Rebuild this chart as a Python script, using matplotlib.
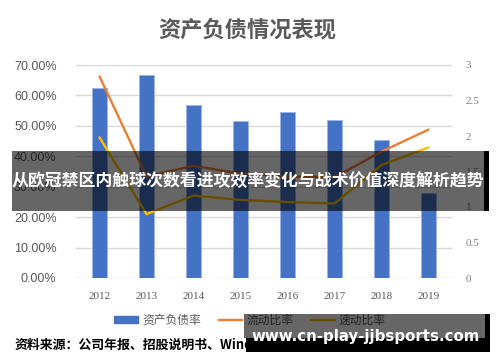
import matplotlib
matplotlib.use("Agg")
import matplotlib.pyplot as plt
from matplotlib.patches import Rectangle
from matplotlib.lines import Line2D
import numpy as np

plt.rcParams['font.family'] = ['Noto Sans CJK SC', 'DejaVu Sans']

years = ['2012', '2013', '2014', '2015', '2016', '2017', '2018', '2019']
debt_ratio = [0.624, 0.668, 0.570, 0.516, 0.544, 0.519, 0.455, 0.28]
current_ratio = [2.84, 1.43, 1.58, 1.47, 1.43, 1.42, 1.78, 2.09]
quick_ratio = [1.98, 0.90, 1.16, 1.10, 1.07, 1.05, 1.59, 1.84]

left_ticks = [0, 0.1, 0.2, 0.3, 0.4, 0.5, 0.6, 0.7]
right_ticks = [0, 0.5, 1, 1.5, 2, 2.5, 3]

title = '资产负债情况表现'
banner = '从欧冠禁区内触球次数看进攻效率变化与战术价值深度解析趋势'
watermark = 'www.cn-play-jjbsports.com'
source = '资料来源：公司年报、招股说明书、Wind、研究所'

W, H = 500, 362
fig = plt.figure(figsize=(5, 3.62), dpi=100)
fig.patch.set_facecolor('white')


def px(x, y):
    return x / W, 1 - y / H


# axes in pixels: left 76, right 452, top 65 (70%), bottom 278 (0)
ax1 = fig.add_axes([76 / W, 1 - 278 / H, (452 - 76) / W, (278 - 65) / H])
x = np.arange(len(years))

for t in left_ticks:
    ax1.axhline(t, color='#D9D9D9', lw=1, zorder=0)
ax1.bar(x, debt_ratio, width=0.3, color='#4472C4', edgecolor='#9DB5E3', lw=0.6, zorder=2)
ax1.set_xlim(-0.5, len(years) - 0.5)
ax1.set_ylim(0, 0.7)
ax1.set_yticks(left_ticks)
ax1.set_yticklabels(['%.2f%%' % (t * 100) for t in left_ticks],
                    fontfamily='Liberation Sans', fontsize=9, color='#595959')
ax1.set_xticks(x)
ax1.set_xticklabels(years, fontfamily='Liberation Serif', fontsize=8, color='#595959')
ax1.tick_params(length=0, pad=10)
ax1.tick_params(axis='y', pad=14)
for s in ax1.spines.values():
    s.set_visible(False)

ax2 = ax1.twinx()
ax2.plot(x, current_ratio, color='#ED7D31', lw=1.7, solid_capstyle='round', solid_joinstyle='round')
ax2.plot(x, quick_ratio, color='#FFC000', lw=1.7, solid_capstyle='round', solid_joinstyle='round')
ax2.set_ylim(0, 2.985)
ax2.set_yticks(right_ticks)
ax2.set_yticklabels([('%g' % t) for t in right_ticks],
                    fontfamily='Liberation Serif', fontsize=8, color='#7F7F7F')
ax2.tick_params(length=0, pad=10)
for s in ax2.spines.values():
    s.set_visible(False)

# title
tx, ty = px(247, 30)
fig.text(tx, ty, title, ha='center', va='center', fontsize=16, fontweight='bold', color='#595959')

# legend
handles = [Rectangle((0, 0), 1, 1, color='#4472C4'),
           Line2D([], [], color='#ED7D31', lw=1.7),
           Line2D([], [], color='#FFC000', lw=1.7)]
lx, ly = px(250, 320)
leg = fig.legend(handles, ['资产负债率', '流动比率', '速动比率'], loc='center',
                 bbox_to_anchor=(lx, ly), ncol=3, frameon=False, fontsize=8.5,
                 handlelength=2.0, handleheight=0.6, handletextpad=0.35, columnspacing=1.5)
for t in leg.get_texts():
    t.set_color('#595959')

# source note
sx, sy = px(15, 345)
fig.text(sx, sy, source, ha='left', va='center', fontsize=9.3, fontweight='heavy', color='black')

# banner overlay
bx0, by0 = px(12, 211)
fig.patches.append(Rectangle((bx0, by0), (484 - 12) / W, 60 / H, transform=fig.transFigure,
                             facecolor='black', alpha=0.6, lw=0, zorder=10))
kx, ky = px(484, 211)
fig.patches.append(Rectangle((kx, ky), 5 / W, 60 / H, transform=fig.transFigure,
                             facecolor='black', lw=0, zorder=10))
cx, cy = px(248, 181)
fig.text(cx, cy, banner, ha='center', va='center', fontsize=12.2, fontweight='bold',
         color='white', zorder=11)

# watermark box
wx0, wy0 = px(244, 338)
fig.patches.append(Rectangle((wx0, wy0), (485 - 244) / W, 24 / H, transform=fig.transFigure,
                             facecolor='black', alpha=0.6, lw=0, zorder=10))
bx, by = px(246, 352)
fig.patches.append(Rectangle((bx, by), (490 - 246) / W, 14 / H, transform=fig.transFigure,
                             facecolor='black', lw=0, zorder=10))
rx, ry = px(485, 352)
fig.patches.append(Rectangle((rx, ry), 5 / W, 38 / H, transform=fig.transFigure,
                             facecolor='black', lw=0, zorder=10))
mx, my = px(366, 336)
fig.text(mx, my, watermark, ha='center', va='center', fontsize=10.8, fontweight='bold',
         fontfamily='DejaVu Sans', color='white', zorder=11)

fig.savefig('out.png', dpi=100, facecolor='white')
